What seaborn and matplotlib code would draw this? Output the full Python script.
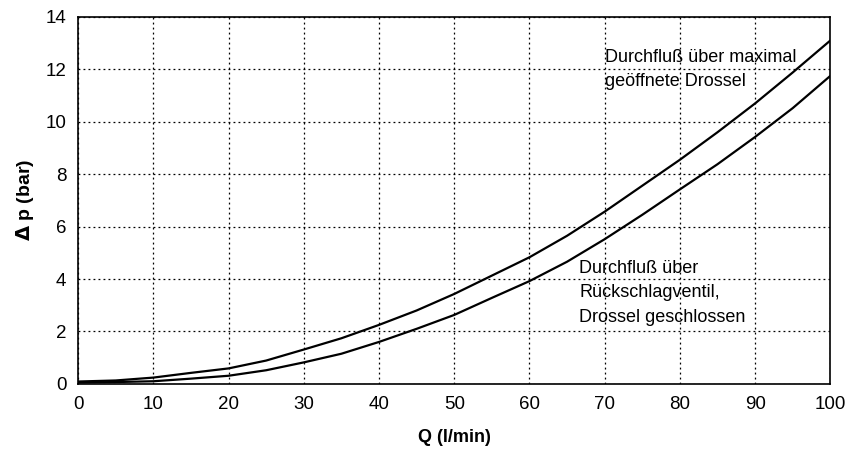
import numpy as np
import pandas as pd
import matplotlib
matplotlib.use("Agg")
import matplotlib.pyplot as plt
import seaborn as sns

q = [0, 5, 10, 15, 20, 25, 30, 35, 40, 45, 50, 55, 60, 65, 70, 75, 80, 85, 90, 95, 100]
# Drossel maximal geöffnet
dp_offen = [0.09, 0.13, 0.24, 0.42, 0.59, 0.89, 1.31, 1.74, 2.25, 2.80, 3.43,
            4.13, 4.83, 5.65, 6.57, 7.56, 8.55, 9.60, 10.70, 11.88, 13.10]
# über Rückschlagventil, Drossel geschlossen
dp_zu = [0.05, 0.07, 0.10, 0.20, 0.31, 0.52, 0.82, 1.15, 1.60, 2.10, 2.63,
         3.28, 3.92, 4.66, 5.52, 6.45, 7.42, 8.38, 9.42, 10.52, 11.75]

df = pd.DataFrame({"Q": q + q,
                   "dp": dp_offen + dp_zu,
                   "kurve": ["offen"] * len(q) + ["zu"] * len(q)})

sns.set_style("white")
plt.rcParams["font.family"] = ["Liberation Sans", "DejaVu Sans"]
plt.rcParams["text.color"] = "black"
plt.rcParams["axes.labelcolor"] = "black"

fig, ax = plt.subplots(figsize=(8.49, 4.57), dpi=100)
fig.subplots_adjust(left=0.092, right=0.978, top=0.963, bottom=0.16)

sns.lineplot(data=df, x="Q", y="dp", hue="kurve", palette=["black", "black"],
             linewidth=1.6, legend=False, ax=ax)

ax.set_xlim(0, 100)
ax.set_ylim(0, 14)
ax.set_xticks(range(0, 101, 10))
ax.set_yticks(range(0, 15, 2))
ax.grid(True, color="black", linestyle=(0, (1.5, 2.5)), linewidth=0.9)
for s in ax.spines.values():
    s.set_color("black")
    s.set_linewidth(1.2)
ax.tick_params(axis="both", direction="out", length=5, width=1, color="black",
               labelsize=13.5, labelcolor="black")

ax.set_xlabel("Q (l/min)", fontsize=13, fontweight="bold", labelpad=12)
ax.set_ylabel(r"$\mathbf{\Delta}$ p (bar)", fontsize=14, fontweight="bold", labelpad=7)

ax.text(70.1, 12.0, "Durchfluß über maximal\ngeöffnete Drossel", fontsize=13,
        va="center", ha="left", linespacing=1.55)
ax.text(66.6, 3.47, "Durchfluß über\nRückschlagventil,\nDrossel geschlossen", fontsize=13,
        va="center", ha="left", linespacing=1.55)

fig.savefig("out.png", dpi=100)
